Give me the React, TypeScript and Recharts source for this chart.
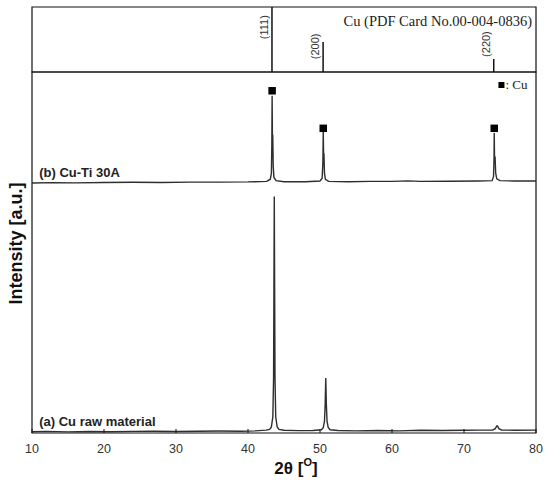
import {
  ComposedChart,
  Line,
  Scatter,
  XAxis,
  YAxis,
  ZAxis,
  ReferenceArea,
  ReferenceLine,
  ReferenceDot,
} from 'recharts';

const SANS = 'Arial, "Liberation Sans", sans-serif';
const SERIF = '"Times New Roman", "Liberation Serif", serif';

// Cu reference pattern, PDF card No.00-004-0836
const pdfTheta = [43.33, 50.43, 74.13];
const pdfIntensity = [100, 46, 20];
const pdfHkl = ['(111)', '(200)', '(220)'];
const pdfHklLabelY = [69, 39.5, 43];

// (a) Cu raw material
const rawTheta = [
  10, 12, 15, 18, 21, 24, 27, 30, 33, 36, 39, 41, 42.5,
  43.0, 43.25, 43.45, 43.55, 43.6, 43.65, 43.7, 43.75, 43.85, 44.05, 44.3,
  45, 47, 49,
  50.2, 50.45, 50.62, 50.72, 50.8, 50.88, 50.98, 51.15, 51.4,
  52.5, 55, 58, 61, 64, 67, 70, 72,
  74.0, 74.35, 74.55, 74.65, 74.85, 75.2,
  77, 80,
];
const rawCounts = [
  0.35, 0.45, 0.3, 0.4, 0.35, 0.45, 0.5, 0.4, 0.5, 0.55, 0.5, 0.6, 0.8,
  1.0, 1.7, 4.5, 15, 40, 65.5, 40, 15, 4.5, 1.7, 1.0,
  0.75, 0.65, 0.7,
  0.9, 1.5, 3.2, 8, 15.2, 8, 3.2, 1.5, 0.9,
  0.7, 0.6, 0.7, 0.6, 0.75, 0.7, 0.75, 0.8,
  0.85, 1.2, 1.95, 1.95, 1.2, 0.85,
  0.75, 0.8,
];

// (b) Cu-Ti 30A, stacked above (a)
const coatTheta = [
  10, 13, 16, 20, 24, 28, 32, 36, 40, 42.6,
  43.1, 43.25, 43.31, 43.35, 43.39, 43.44, 43.5, 43.6, 43.9,
  45, 48, 50.0,
  50.3, 50.4, 50.45, 50.5, 50.55, 50.62, 50.75, 51.2,
  54, 57, 60, 62.2, 64, 68, 72, 73.9,
  74.1, 74.17, 74.2, 74.24, 74.32, 74.4, 74.55, 75,
  77, 80,
];
const coatCounts = [
  69.25, 69.35, 69.3, 69.4, 69.45, 69.4, 69.5, 69.5, 69.55, 69.7,
  70.3, 72, 80, 93.4, 82.4, 82.4, 74, 70.8, 69.9,
  69.6, 69.6, 69.8,
  70.6, 75, 83.5, 77.3, 77.3, 72, 70.3, 69.7,
  69.6, 69.7, 69.7, 69.85, 69.7, 69.75, 69.8, 69.9,
  71, 76, 83.1, 76.4, 76.4, 72, 70.4, 69.9,
  69.8, 69.8,
];

// ■ Cu peak marks over (b)
const cuMarkTheta = [43.35, 50.45, 74.2];
const cuMarkY = [94.8, 84.4, 84.4];

const xTicks = [10, 20, 30, 40, 50, 60, 70, 80];

const toPoints = (xs: number[], ys: number[]) =>
  xs.map((x, i) => ({ x, y: ys[i] }));

export default function App() {
  const rawData = toPoints(rawTheta, rawCounts);
  const coatData = toPoints(coatTheta, coatCounts);
  const markData = toPoints(cuMarkTheta, cuMarkY);

  return (
    <div
      style={{
        position: 'absolute',
        left: 0,
        top: 0,
        width: 550,
        height: 483,
        background: '#fff',
      }}
    >
      <div style={{ position: 'absolute', left: 0, top: 0 }}>
        <ComposedChart
          width={550}
          height={80}
          margin={{ top: 7, right: 14, bottom: 8, left: 32 }}
        >
          <XAxis type='number' dataKey='x' domain={[10, 80]} hide allowDataOverflow />
          <YAxis type='number' domain={[0, 100]} hide allowDataOverflow />
          <ReferenceArea
            x1={10}
            x2={80}
            y1={0}
            y2={100}
            fill='none'
            fillOpacity={0}
            stroke='#111'
            strokeWidth={1.2}
            label={(p: any) => (
              <text
                x={p.viewBox.x + p.viewBox.width - 4}
                y={p.viewBox.y + 14}
                textAnchor='end'
                dominantBaseline='central'
                fontFamily={SERIF}
                fontSize={14.5}
                fill='#222'
              >
                Cu (PDF Card No.00-004-0836)
              </text>
            )}
          />
          {pdfTheta.map((t, i) => (
            <ReferenceLine
              key={`pdf-${pdfHkl[i]}`}
              segment={[
                { x: t, y: 0 },
                { x: t, y: pdfIntensity[i] },
              ]}
              stroke='#111'
              strokeWidth={1.5}
            />
          ))}
          {pdfTheta.map((t, i) => (
            <ReferenceDot
              key={`hkl-${pdfHkl[i]}`}
              x={t}
              y={pdfHklLabelY[i]}
              r={0}
              fill='none'
              stroke='none'
              label={(p: any) => {
                const cx = p.viewBox.x - 8;
                const cy = p.viewBox.y;
                return (
                  <text
                    x={cx}
                    y={cy}
                    transform={`rotate(-90, ${cx}, ${cy})`}
                    textAnchor='middle'
                    dominantBaseline='central'
                    fontFamily={SANS}
                    fontSize={11}
                    fill='#333'
                  >
                    {pdfHkl[i]}
                  </text>
                );
              }}
            />
          ))}
        </ComposedChart>
      </div>

      <div style={{ position: 'absolute', left: 0, top: 0 }}>
        <ComposedChart
          width={550}
          height={483}
          margin={{ top: 72, right: 14, bottom: 10, left: 2 }}
        >
          <XAxis
            type='number'
            dataKey='x'
            domain={[10, 80]}
            ticks={xTicks}
            interval={0}
            allowDataOverflow
            height={40}
            axisLine={false}
            tickLine={{ stroke: '#111' }}
            tickSize={-4}
            tickMargin={15}
            tick={{ fontSize: 12.5, fill: '#333', fontFamily: SANS }}
            label={(p: any) => (
              <text
                x={p.viewBox.x + p.viewBox.width / 2 + 12}
                y={p.viewBox.y + 35}
                textAnchor='middle'
                dominantBaseline='central'
                fontFamily={SANS}
                fontSize={17}
                fontWeight='bold'
                fill='#111'
              >
                2θ [
                <tspan fontSize={11} dy={-6}>
                  O
                </tspan>
                <tspan dy={6}>]</tspan>
              </text>
            )}
          />
          <YAxis
            type='number'
            dataKey='y'
            domain={[0, 100]}
            allowDataOverflow
            width={30}
            tick={false}
            tickLine={false}
            axisLine={false}
            label={(p: any) => {
              const cx = p.viewBox.x + 14;
              const cy = p.viewBox.y + p.viewBox.height / 2 - 9;
              return (
                <text
                  x={cx}
                  y={cy}
                  transform={`rotate(-90, ${cx}, ${cy})`}
                  textAnchor='middle'
                  dominantBaseline='central'
                  fontFamily={SANS}
                  fontSize={18}
                  fontWeight='bold'
                  fill='#111'
                >
                  Intensity [a.u.]
                </text>
              );
            }}
          />
          <ZAxis range={[56, 56]} />
          <ReferenceArea
            x1={10}
            x2={80}
            y1={0}
            y2={100}
            fill='none'
            fillOpacity={0}
            stroke='#111'
            strokeWidth={1.2}
          />
          <Line
            data={rawData}
            dataKey='y'
            type='linear'
            dot={false}
            stroke='#2e2e2e'
            strokeWidth={1.4}
            isAnimationActive={false}
          />
          <Line
            data={coatData}
            dataKey='y'
            type='linear'
            dot={false}
            stroke='#2e2e2e'
            strokeWidth={1.4}
            isAnimationActive={false}
          />
          <Scatter
            data={markData}
            dataKey='y'
            shape='square'
            fill='#000'
            isAnimationActive={false}
          />
          <ReferenceDot
            x={11}
            y={72.1}
            r={0}
            fill='none'
            stroke='none'
            label={(p: any) => (
              <text
                x={p.viewBox.x}
                y={p.viewBox.y}
                dominantBaseline='central'
                fontFamily={SANS}
                fontSize={13}
                fontWeight='bold'
                fill='#222'
              >
                (b) Cu-Ti 30A
              </text>
            )}
          />
          <ReferenceDot
            x={11}
            y={3.13}
            r={0}
            fill='none'
            stroke='none'
            label={(p: any) => (
              <text
                x={p.viewBox.x}
                y={p.viewBox.y}
                dominantBaseline='central'
                fontFamily={SANS}
                fontSize={13}
                fontWeight='bold'
                fill='#222'
              >
                (a) Cu raw material
              </text>
            )}
          />
          <ReferenceDot
            x={75.2}
            y={96.4}
            r={3}
            shape={(p: any) => (
              <rect x={p.cx - 3} y={p.cy - 3} width={6} height={6} fill='#000' />
            )}
            label={(p: any) => (
              <text
                x={p.viewBox.x + p.viewBox.width + 1}
                y={p.viewBox.y + p.viewBox.height / 2}
                dominantBaseline='central'
                fontFamily={SERIF}
                fontSize={13}
                fill='#222'
              >
                : Cu
              </text>
            )}
          />
        </ComposedChart>
      </div>
    </div>
  );
}
